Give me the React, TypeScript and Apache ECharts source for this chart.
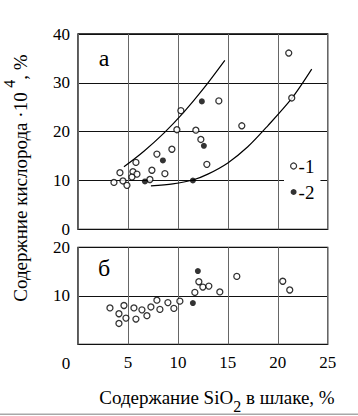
import React, { useEffect, useRef } from "react";
import * as echarts from "echarts";

const FONT = "Liberation Serif";

const xTicks = [0, 5, 10, 15, 20, 25];
const yTopTicks = [0, 10, 20, 30, 40];
const yBottomTicks = [0, 10, 20];

// panel "а": open circles (1) and filled circles (2)
const topOpen = [
  [21.1, 36.1], [21.4, 26.9], [14.1, 26.3], [10.3, 24.3], [9.9, 20.4],
  [11.8, 20.3], [16.4, 21.2], [12.3, 18.4], [9.4, 16.4], [7.9, 15.4],
  [12.9, 13.3], [5.8, 13.7], [4.2, 11.6], [5.5, 11.8], [5.9, 11.3],
  [5.4, 10.7], [7.4, 12.1], [8.7, 11.4], [7.2, 10.2], [3.6, 9.6],
  [4.5, 9.9], [4.9, 9.0],
];
const topFilled = [[12.4, 26.2], [12.6, 17.1], [8.5, 14.1], [6.7, 9.8], [11.5, 10.0]];

// envelope curves of panel "а"
const upperCurve = [[4.6, 12.8], [6.6, 16.0], [8.6, 19.7], [10.6, 24.0], [12.6, 28.9], [14.7, 34.6]];
const lowerCurve = [[7.3, 8.9], [9.5, 9.3], [11.5, 10.1], [13.0, 11.3], [15.0, 13.6], [17.0, 16.9], [19.0, 21.2], [21.4, 26.8], [23.4, 32.8]];

// panel "б"
const bottomOpen = [
  [3.2, 7.5], [4.1, 6.3], [4.1, 4.3], [4.6, 8.0], [4.8, 5.4], [5.6, 7.5],
  [5.8, 5.2], [6.4, 7.1], [6.9, 5.9], [7.3, 7.7], [7.9, 9.1], [8.2, 7.2],
  [9.0, 8.6], [9.6, 7.4], [10.2, 8.9], [11.7, 10.7], [12.1, 12.9], [12.5, 11.8],
  [13.1, 12.0], [14.2, 10.8], [15.9, 14.0], [20.5, 13.0], [21.2, 11.2],
];
const bottomFilled = [[12.0, 15.1], [11.5, 8.5]];

const legendNames = ["-1", "-2"];
const panelLabels = ["а", "б"];
const xTitleParts = ["Содержание SiO", "2", " в шлаке, %"];
const yTitleParts = ["Содержние кислорода ·10 ", "4", ", %"];

export default function App() {
  const ref = useRef<HTMLDivElement>(null);
  useEffect(() => {
    if (!ref.current) return;
    const chart = echarts.init(ref.current, null, { renderer: "svg" });
    const labelStyle = { fontFamily: FONT, fontSize: 17, color: "#000" };
    const openStyle = { color: "#fff", borderColor: "#000", borderWidth: 1.3 };
    const filledStyle = { color: "#000" };
    const xMin = xTicks[0];
    const xMax = xTicks[xTicks.length - 1];
    const xInt = xTicks[1] - xTicks[0];
    const mkX = (idx: number, showLabels: boolean) => ({
      type: "value",
      gridIndex: idx,
      min: xMin,
      max: xMax,
      interval: xInt,
      axisLine: { show: false },
      axisTick: { show: false },
      axisLabel: {
        show: showLabels,
        ...labelStyle,
        margin: 10,
        formatter: (v: number) => (v === xMin ? "" : String(v)),
      },
      splitLine: { show: true, lineStyle: { color: "#666", width: 1 } },
    });
    const mkY = (idx: number, ticks: number[], hideZero: boolean) => ({
      type: "value",
      gridIndex: idx,
      min: ticks[0],
      max: ticks[ticks.length - 1],
      interval: ticks[1] - ticks[0],
      axisLine: { show: false },
      axisTick: { show: false },
      axisLabel: {
        ...labelStyle,
        margin: 8,
        formatter: (v: number) => (hideZero && v === ticks[0] ? "" : String(v)),
      },
      splitLine: { show: true, lineStyle: { color: "#111", width: 1 } },
    });
    const curveStyle = { color: "#000", width: 1.2 };
    const option = {
      animation: false,
      backgroundColor: "#fff",
      textStyle: { fontFamily: FONT },
      grid: [
        { left: 78, top: 34, width: 249.7, height: 195.3, show: true, borderColor: "#000", borderWidth: 1.3 },
        { left: 78, top: 247.3, width: 249.7, height: 97, show: true, borderColor: "#000", borderWidth: 1.3 },
      ],
      xAxis: [mkX(0, false), mkX(1, true)],
      yAxis: [mkY(0, yTopTicks, false), mkY(1, yBottomTicks, true)],
      legend: {
        left: 284,
        top: 153,
        orient: "vertical",
        backgroundColor: "#fff",
        padding: [3, 6, 3, 6],
        itemWidth: 6,
        itemHeight: 6,
        itemGap: 6,
        textStyle: { fontFamily: FONT, fontSize: 19, color: "#000", lineHeight: 20, padding: [0, 0, 0, -3] },
        data: [
          { name: legendNames[0], icon: "circle", itemStyle: { color: "#fff", borderColor: "#000", borderWidth: 1.2 } },
          { name: legendNames[1], icon: "circle", itemStyle: { color: "#000" } },
        ],
      },
      series: [
        {
          type: "line", xAxisIndex: 0, yAxisIndex: 0, data: upperCurve, smooth: 0.3,
          showSymbol: false, lineStyle: curveStyle, silent: true, z: 2,
        },
        {
          type: "line", xAxisIndex: 0, yAxisIndex: 0, data: lowerCurve, smooth: 0.3,
          showSymbol: false, lineStyle: curveStyle, silent: true, z: 2,
        },
        { name: legendNames[0], type: "scatter", xAxisIndex: 0, yAxisIndex: 0, data: topOpen, symbol: "circle", symbolSize: 6, itemStyle: openStyle, z: 3 },
        { name: legendNames[1], type: "scatter", xAxisIndex: 0, yAxisIndex: 0, data: topFilled, symbol: "circle", symbolSize: 6, itemStyle: filledStyle, z: 3 },
        { name: legendNames[0], type: "scatter", xAxisIndex: 1, yAxisIndex: 1, data: bottomOpen, symbol: "circle", symbolSize: 6, itemStyle: openStyle, z: 3 },
        { name: legendNames[1], type: "scatter", xAxisIndex: 1, yAxisIndex: 1, data: bottomFilled, symbol: "circle", symbolSize: 6, itemStyle: filledStyle, z: 3 },
      ],
      graphic: [
        { type: "text", x: 104, y: 58, style: { text: panelLabels[0], fontFamily: FONT, fontSize: 24, fill: "#000", align: "center", verticalAlign: "middle" } },
        { type: "text", x: 104, y: 268, style: { text: panelLabels[1], fontFamily: FONT, fontSize: 24, fill: "#000", align: "center", verticalAlign: "middle" } },
        { type: "text", x: 66, y: 363, style: { text: String(xTicks[0]), fontFamily: FONT, fontSize: 17, fill: "#000", align: "center", verticalAlign: "middle" } },
        {
          type: "text", x: 217, y: 401,
          style: {
            text: `{a|${xTitleParts[0]}}{s|${xTitleParts[1]}}{a|${xTitleParts[2]}}`,
            align: "center", verticalAlign: "middle", fill: "#000", fontFamily: FONT,
            rich: {
              a: { fontFamily: FONT, fontSize: 19, verticalAlign: "top", fill: "#000" },
              s: { fontFamily: FONT, fontSize: 16, verticalAlign: "bottom", padding: [11, 0, 0, 0], fill: "#000" },
            },
          },
        },
        {
          type: "text", x: 15.5, y: 178, rotation: Math.PI / 2,
          style: {
            text: `{a|${yTitleParts[0]}}{s|${yTitleParts[1]}}{a|${yTitleParts[2]}}`,
            align: "center", verticalAlign: "middle", fill: "#000", fontFamily: FONT,
            rich: {
              a: { fontFamily: FONT, fontSize: 19, verticalAlign: "bottom", fill: "#000" },
              s: { fontFamily: FONT, fontSize: 16, verticalAlign: "top", padding: [0, 0, 12, 0], fill: "#000" },
            },
          },
        },
        { type: "rect", shape: { x: 0, y: 413.5, width: 358, height: 1.5 }, style: { fill: "#a8a8a8" } },
      ],
    };
    chart.setOption(option as any);
    return () => chart.dispose();
  }, []);
  return <div ref={ref} style={{ position: "absolute", left: 0, top: 0, width: 358, height: 416 }} />;
}
